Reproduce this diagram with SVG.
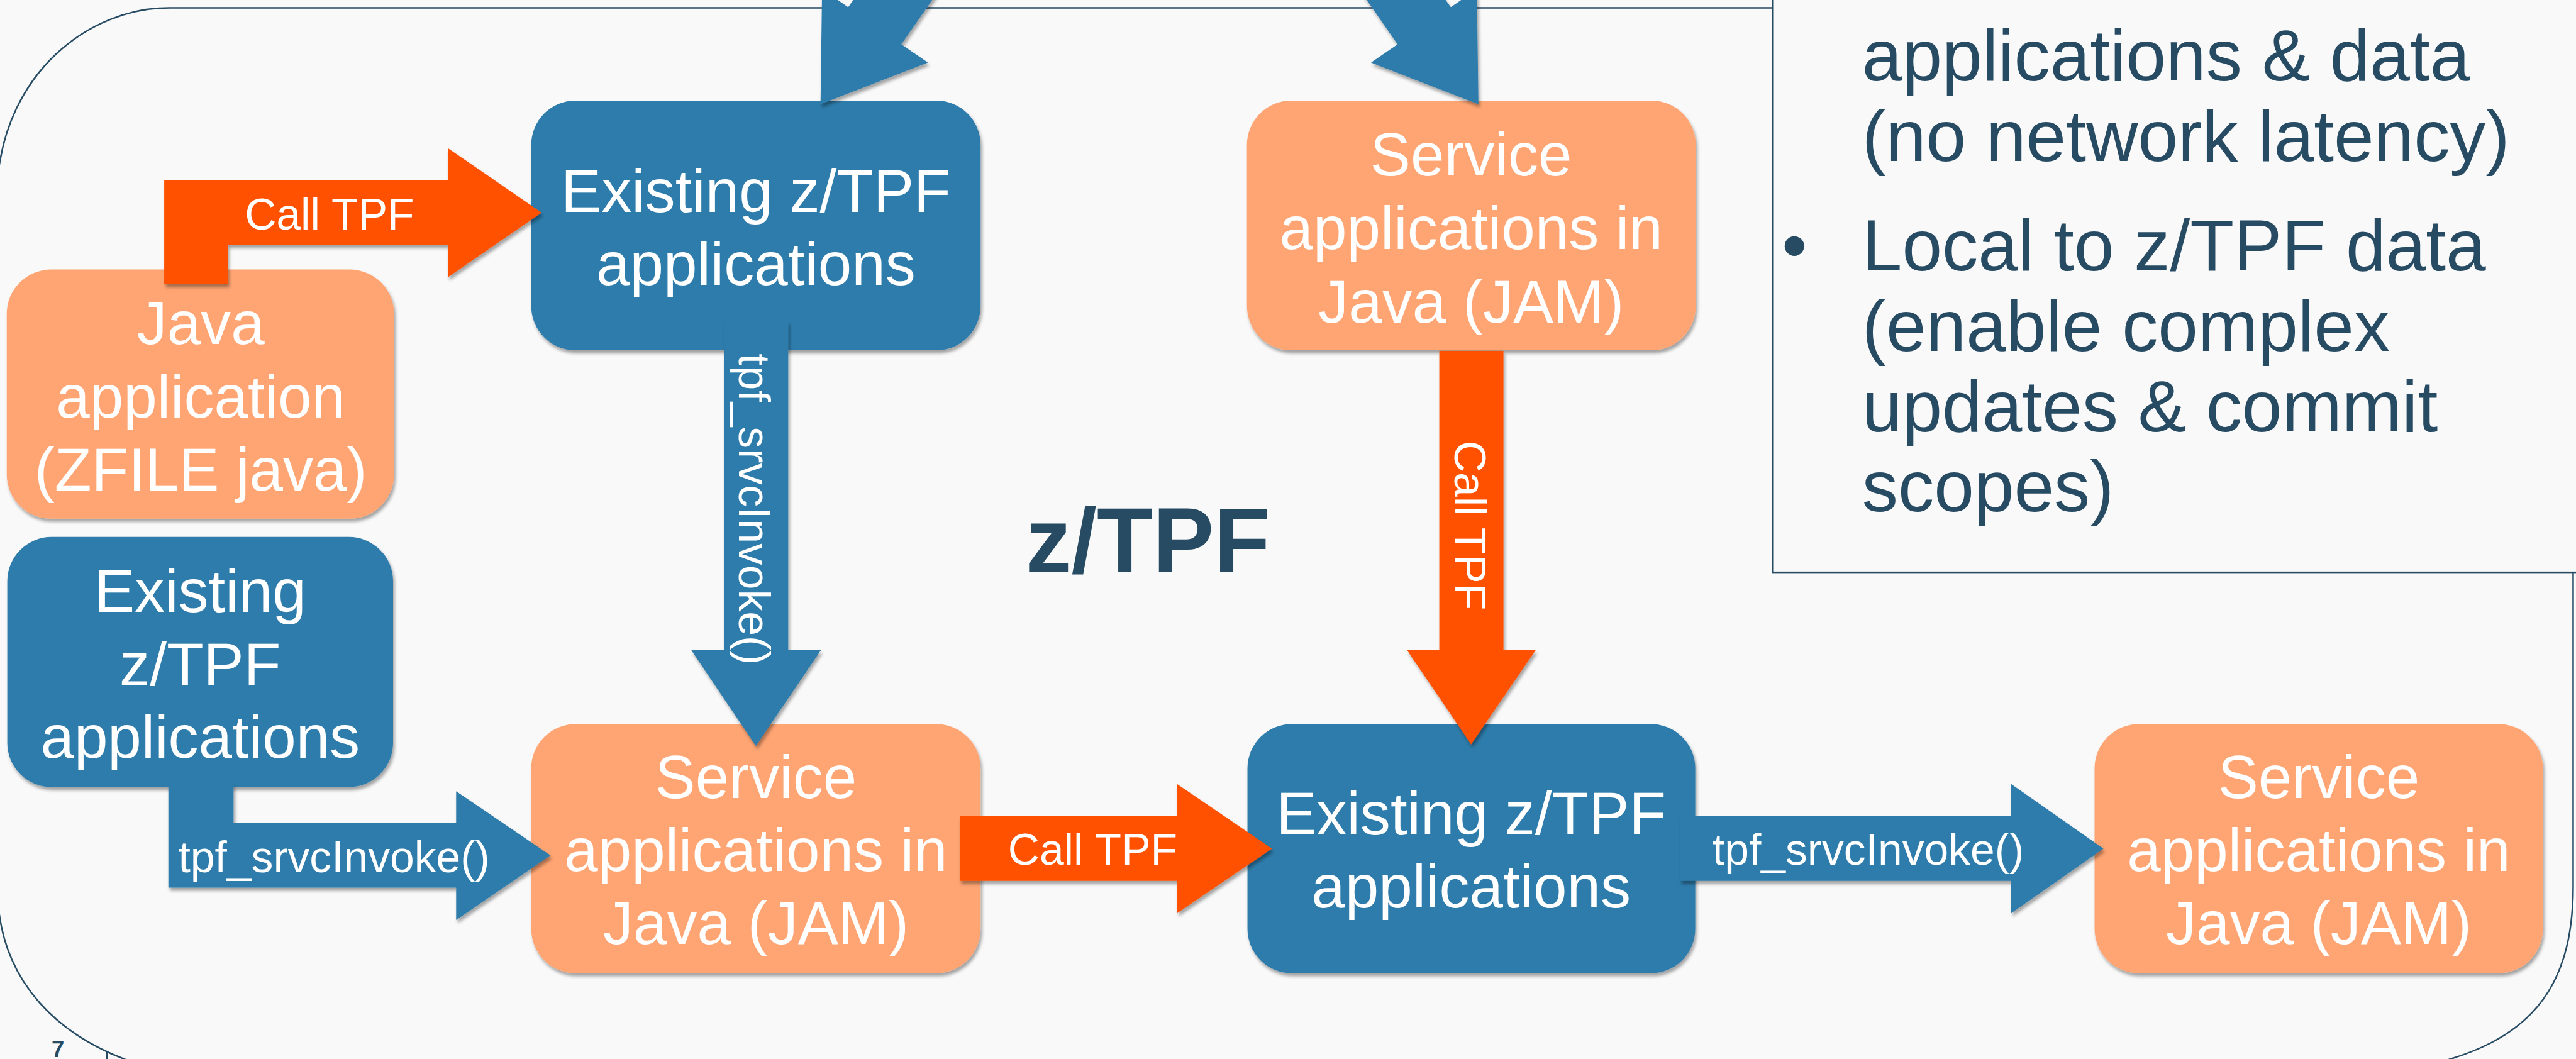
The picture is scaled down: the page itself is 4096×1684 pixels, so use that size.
<svg xmlns="http://www.w3.org/2000/svg" width="4096" height="1684" viewBox="0 0 4096 1684">
<defs>
<filter id="sh" x="-10%" y="-10%" width="125%" height="130%">
<feDropShadow dx="3" dy="6" stdDeviation="3" flood-color="#000" flood-opacity="0.35"/>
</filter>
<style>
.blue{fill:#2E7BAB}
.peach{fill:#FFA573}
.red{fill:#FF5104}
.node rect{filter:url(#sh)}
.arrow{filter:url(#sh)}
.bt{font-family:"Liberation Sans",Arial,sans-serif;font-size:116px;fill:#FFFFFF;text-anchor:middle}
.lt{font-family:"Liberation Sans",Arial,sans-serif;font-size:84px;fill:#FFFFFF}
.pt{font-family:"Liberation Sans",Arial,sans-serif;font-size:138px;fill:#264B63}
.frame{fill:none;stroke:#264B63;stroke-width:3}
</style>
</defs>
<rect x="0" y="0" width="4096" height="1684" fill="#F9F9F9"/>
<g transform="scale(0.8289)">
<g id="frame">
<path class="frame" d="M325,15 L4936,15 L4936,1700 C4936,1900 4850,2000 4650,2045 L300,2052 C110,2000 -5,1880 -5,1700 L-5,350 C10,140 170,15 325,15 Z"/>
<line x1="205" y1="2018" x2="205" y2="2045" stroke="#264B63" stroke-width="3"/>
<text x="99" y="2028" font-family="Liberation Sans,Arial,sans-serif" font-weight="bold" font-size="44" fill="#264B63">7</text>
</g>
<g id="panel">
<rect x="3400" y="-50" width="1600" height="1148" fill="#F9F9F9" stroke="#264B63" stroke-width="3"/>
<text class="pt" x="3572" y="154">applications &amp; data</text>
<text class="pt" x="3572" y="309">(no network latency)</text>
<text class="pt" x="3418" y="519">•</text>
<text class="pt" x="3572" y="519">Local to z/TPF data</text>
<text class="pt" x="3572" y="673">(enable complex</text>
<text class="pt" x="3572" y="828">updates &amp; commit</text>
<text class="pt" x="3572" y="981">scopes)</text>
</g>
<g id="title">
<text x="1967" y="1098" font-family="Liberation Sans,Arial,sans-serif" font-weight="bold" font-size="176" fill="#264B63">z/TPF</text>
</g>
<g id="java-app" class="node">
<rect class="peach" x="13" y="517" width="743" height="478" rx="85"/>
<text class="bt" x="385" y="660">Java</text>
<text class="bt" x="385" y="801">application</text>
<text class="bt" x="385" y="941">(ZFILE java)</text>
</g>
<g id="existing-left" class="node">
<rect class="blue" x="14" y="1030" width="740" height="480" rx="85"/>
<text class="bt" x="384" y="1174">Existing</text>
<text class="bt" x="384" y="1315">z/TPF</text>
<text class="bt" x="384" y="1454">applications</text>
</g>
<g id="existing-top" class="node">
<rect class="blue" x="1019" y="193" width="862" height="479" rx="85"/>
<text class="bt" x="1450" y="406">Existing z/TPF</text>
<text class="bt" x="1450" y="547">applications</text>
</g>
<g id="service-top" class="node">
<rect class="peach" x="2392" y="193" width="861" height="479" rx="85"/>
<text class="bt" x="2822" y="337">Service</text>
<text class="bt" x="2822" y="478">applications in</text>
<text class="bt" x="2822" y="619">Java (JAM)</text>
</g>
<g id="service-bottom-left" class="node">
<rect class="peach" x="1019" y="1389" width="862" height="478" rx="85"/>
<text class="bt" x="1450" y="1531">Service</text>
<text class="bt" x="1450" y="1671">applications in</text>
<text class="bt" x="1450" y="1811">Java (JAM)</text>
</g>
<g id="existing-bottom" class="node">
<rect class="blue" x="2393" y="1389" width="859" height="478" rx="85"/>
<text class="bt" x="2822" y="1601">Existing z/TPF</text>
<text class="bt" x="2822" y="1741">applications</text>
</g>
<g id="service-bottom-right" class="node">
<rect class="peach" x="4018" y="1389" width="860" height="478" rx="85"/>
<text class="bt" x="4448" y="1531">Service</text>
<text class="bt" x="4448" y="1671">applications in</text>
<text class="bt" x="4448" y="1811">Java (JAM)</text>
</g>
<g id="connectors">
<polygon class="blue arrow" points="1574,200 1780,120 1729,85 1901,-162 1799,-232 1627,14 1577,-21"/>
<polygon class="blue arrow" points="2836,200 2630,120 2681,85 2509,-162 2611,-232 2783,14 2833,-21"/>
<polygon class="red arrow" points="315,545 315,346 859,346 859,284 1039,408 859,532 859,470 437,470 437,545"/>
<text class="lt" x="632" y="440" text-anchor="middle" font-size="82">Call TPF</text>
<polygon class="blue arrow" points="1389,616 1512,616 1512,1247 1575,1247 1450,1431 1326,1247 1389,1247"/>
<text class="lt" transform="translate(1418,977) rotate(90)" text-anchor="middle">tpf_srvcInvoke()</text>
<polygon class="blue arrow" points="323,1504 448,1504 448,1579 875,1579 875,1518 1056,1641 875,1765 875,1703 323,1703"/>
<text class="lt" x="342" y="1673">tpf_srvcInvoke()</text>
<polygon class="red arrow" points="1841,1566 2258,1566 2258,1504 2440,1628 2258,1752 2258,1690 1841,1690"/>
<text class="lt" x="2096" y="1659" text-anchor="middle" font-size="82">Call TPF</text>
<polygon class="blue arrow" points="3223,1566 3858,1566 3858,1504 4035,1628 3858,1752 3858,1690 3223,1690"/>
<text class="lt" x="3285" y="1659">tpf_srvcInvoke()</text>
<polygon class="red arrow" points="2761,673 2884,673 2884,1247 2946,1247 2822,1428 2699,1247 2761,1247"/>
<text class="lt" transform="translate(2791,1008) rotate(90)" text-anchor="middle" font-size="82">Call TPF</text>
</g>
</g>
</svg>
